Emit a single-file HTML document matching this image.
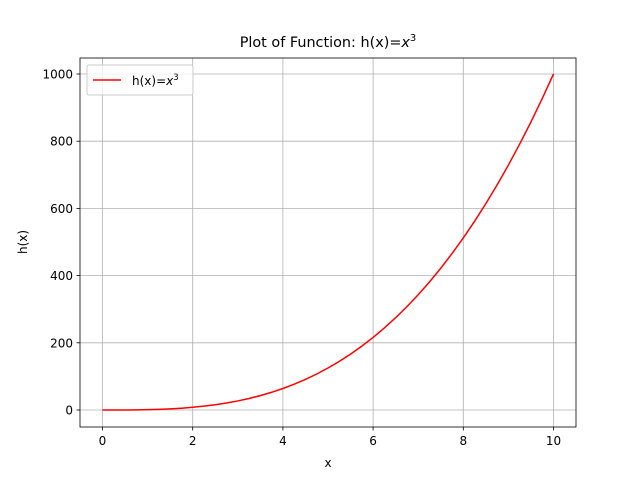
<!DOCTYPE html>
<html><head><meta charset="utf-8"><style>
body{margin:0;background:#fff}
svg{display:block;font-family:"DejaVu Sans","Liberation Sans",sans-serif}
</style></head><body>
<svg id="chart" width="640" height="480">
<rect width="640" height="480" fill="#fff"/>
<g id="grid"></g>
<g id="ticks"></g>
<path id="curve" fill="none" stroke="#ff0000" stroke-width="1.5"/>
<rect x="80" y="58" width="496" height="369" fill="none" stroke="#000" stroke-width="0.8"/>
<text x="328" y="47" text-anchor="middle" font-size="14.4">Plot of Function: h(x)=<tspan font-style="italic">x</tspan><tspan dy="-6" font-size="10">3</tspan></text>
<text x="328" y="467" text-anchor="middle" font-size="12">x</text>
<text transform="translate(27,242) rotate(-90)" text-anchor="middle" font-size="12">h(x)</text>
<g>
<rect x="87" y="65" width="106" height="30" rx="2" fill="#fff" fill-opacity="0.8" stroke="#ccc"/>
<line x1="93" y1="80" x2="121" y2="80" stroke="#ff0000" stroke-width="1.5"/>
<text x="132" y="85" font-size="12">h(x)=<tspan font-style="italic">x</tspan><tspan dy="-5" font-size="8.5">3</tspan></text>
</g>
</svg>
<script>
const xs=[0,0.25,0.5,0.75,1,1.25,1.5,1.75,2,2.25,2.5,2.75,3,3.25,3.5,3.75,4,4.25,4.5,4.75,5,5.25,5.5,5.75,6,6.25,6.5,6.75,7,7.25,7.5,7.75,8,8.25,8.5,8.75,9,9.25,9.5,9.75,10];
const ys=[0,0.016,0.125,0.422,1,1.953,3.375,5.359,8,11.39,15.625,20.8,27,34.33,42.875,52.73,64,76.77,91.125,107.17,125,144.7,166.375,190.11,216,244.14,274.625,307.55,343,381.08,421.875,465.48,512,561.52,614.125,669.92,729,791.45,857.375,926.86,1000];
const xTicks=[0,2,4,6,8,10];
const yTicks=[0,200,400,600,800,1000];
const X=v=>102.5+(v-0)*(553.5-102.5)/10;
const Y=v=>410-v*(410-74)/1000;
const NS='http://www.w3.org/2000/svg';
const grid=document.getElementById('grid'),tk=document.getElementById('ticks');
function mk(tag,attrs,parent){const e=document.createElementNS(NS,tag);for(const k in attrs)e.setAttribute(k,attrs[k]);parent.appendChild(e);return e;}
xTicks.forEach(t=>{
 const g=mk('line',{x1:X(t),x2:X(t),y1:58,y2:427,stroke:'#b0b0b0','stroke-width':0.8},grid);
 
 
 mk('line',{x1:X(t),x2:X(t),y1:427,y2:430.5,stroke:'#000','stroke-width':0.8},tk);
 const l=mk('text',{x:X(t),y:445,'text-anchor':'middle','font-size':12},tk);l.textContent=t;
 
 
});
yTicks.forEach(t=>{
 const g=mk('line',{x1:80,x2:576,y1:Y(t),y2:Y(t),stroke:'#b0b0b0','stroke-width':0.8},grid);
 
 
 mk('line',{x1:76.5,x2:80,y1:Y(t),y2:Y(t),stroke:'#000','stroke-width':0.8},tk);
 const l=mk('text',{x:73,y:Y(t)+4.5,'text-anchor':'end','font-size':12},tk);l.textContent=t;
 
 
});
document.getElementById('curve').setAttribute('d',xs.map((x,i)=>(i?'L':'M')+X(x).toFixed(2)+','+Y(ys[i]).toFixed(2)).join(''));
</script>
</body></html>
